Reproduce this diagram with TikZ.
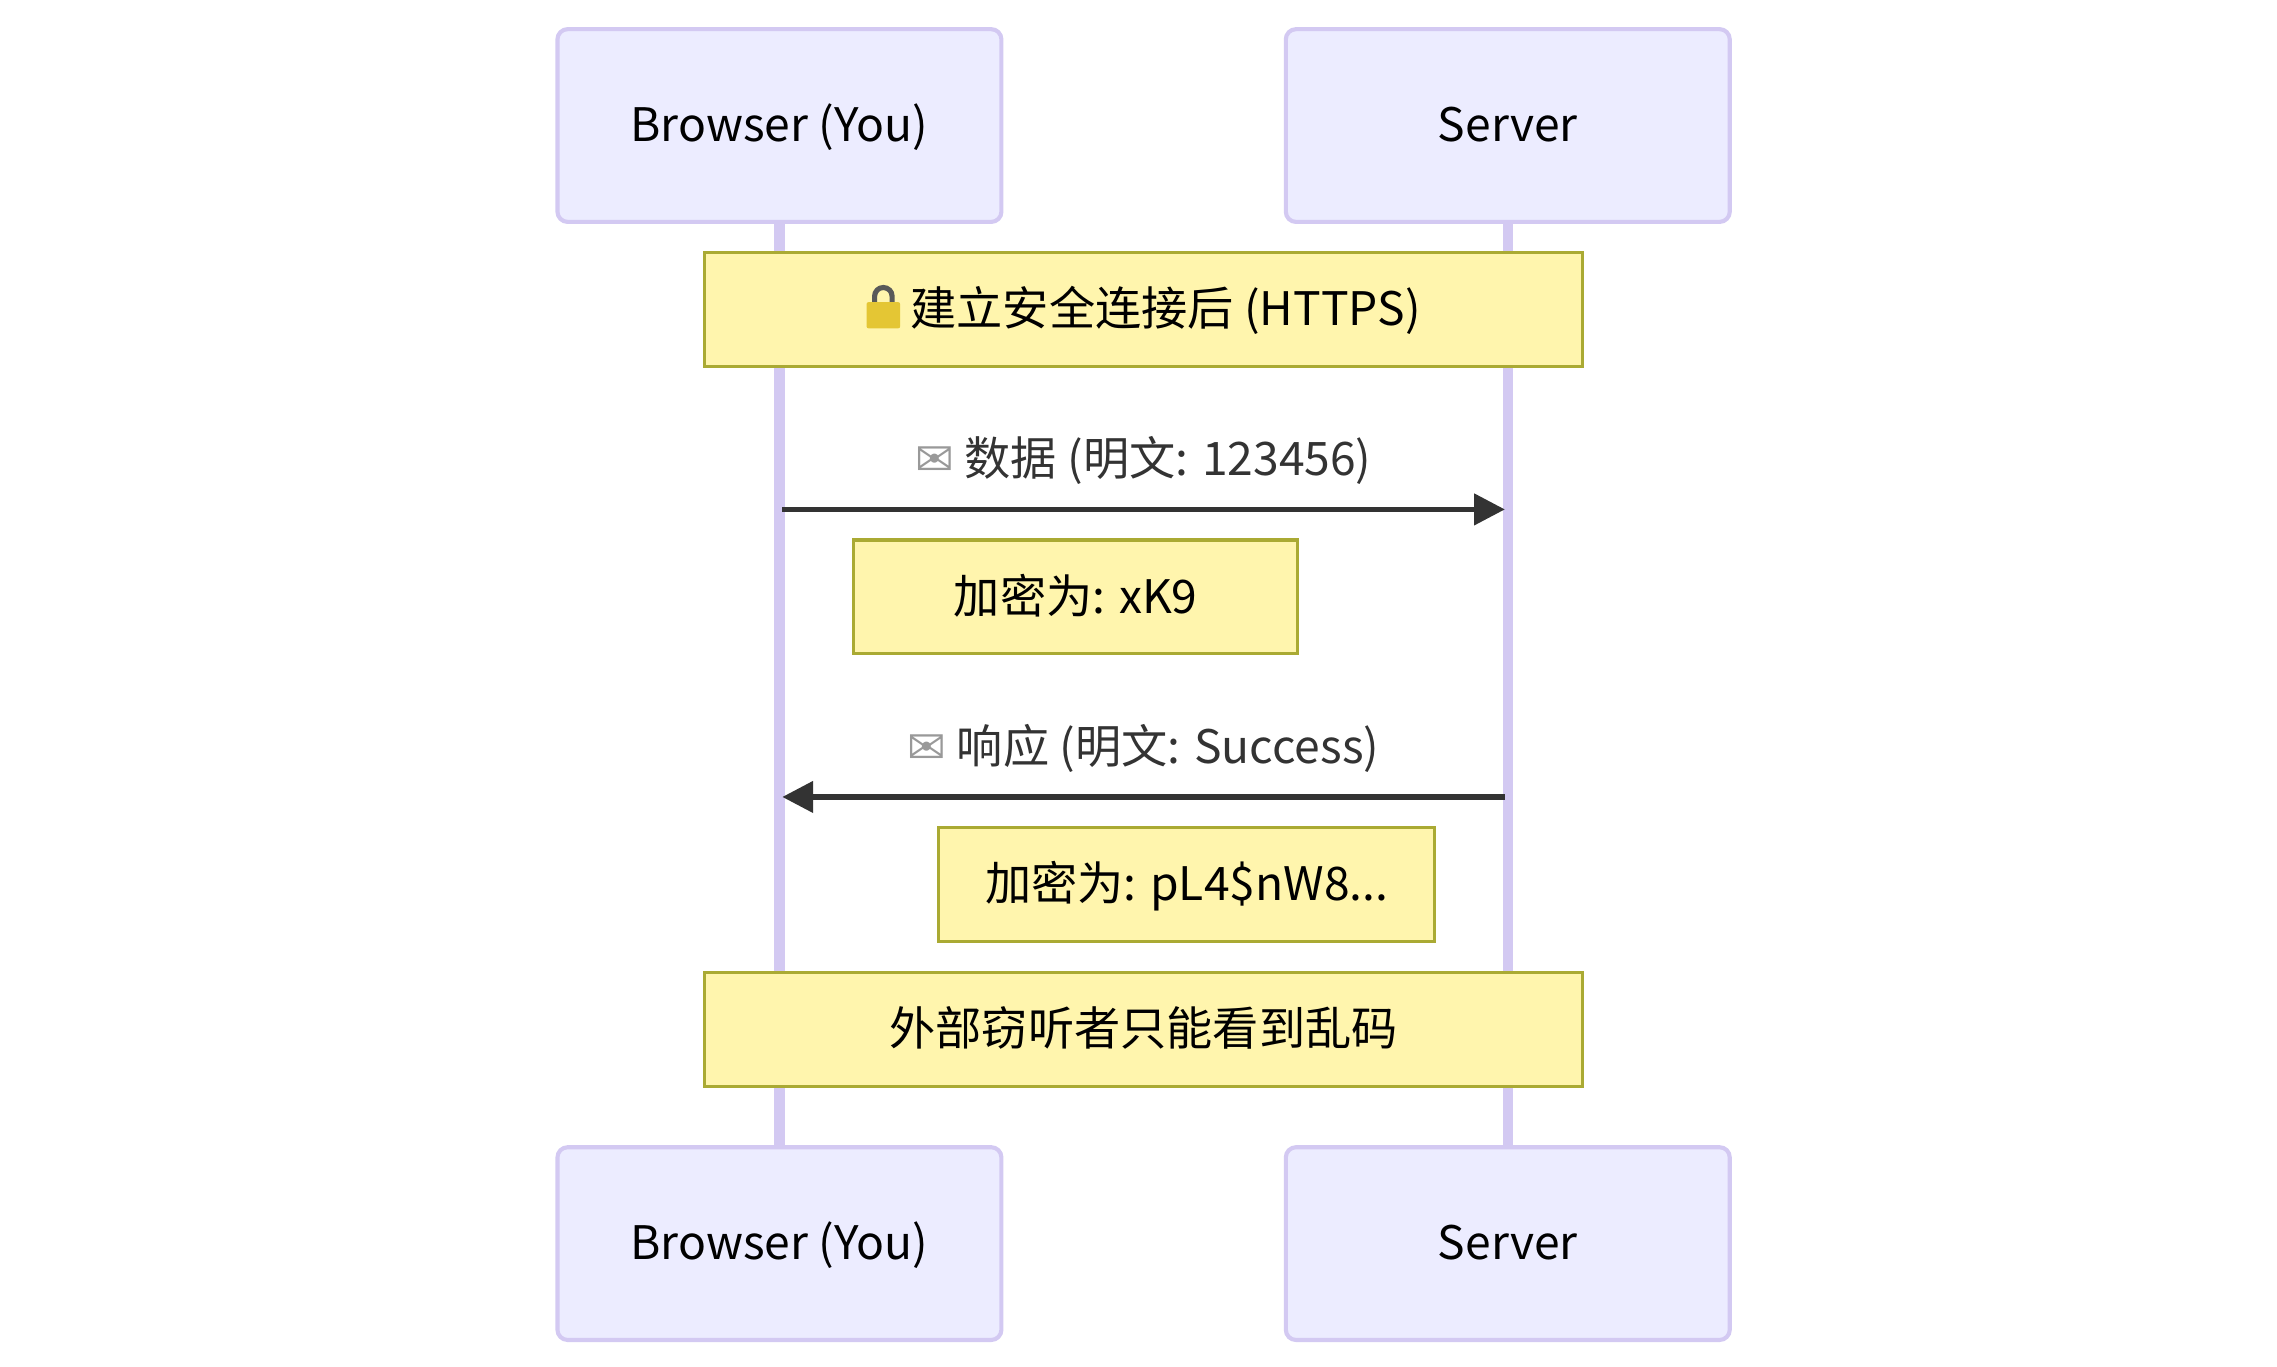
\documentclass[tikz,border=0pt]{standalone}
\usepackage{fontspec}
\setmainfont{Noto Sans CJK SC}
\newfontfamily\symfont{DejaVu Sans}
\usetikzlibrary{arrows.meta,positioning}
\definecolor{actorfill}{HTML}{ECECFF}
\definecolor{actorline}{HTML}{D3C9F2}
\definecolor{notefill}{HTML}{FFF5AD}
\definecolor{noteline}{HTML}{AAAA33}
\definecolor{msgline}{HTML}{333333}
\newcommand\padlock{\tikz[baseline=0pt,x=1cm,y=1cm]{\draw[line width=1pt,color=gray!70!black] (0.055,0.15) -- (0.055,0.2) arc (180:0:0.06) -- (0.175,0.15);\fill[rounded corners=0.4pt,color=yellow!55!brown] (0,-0.02) rectangle (0.23,0.16);}}
\newcommand\envelope{{\symfont\color{gray!80}✉}}
\begin{document}
\begin{tikzpicture}[x=0.01cm,y=-0.01cm,
  actor/.style={draw=actorline,fill=actorfill,line width=0.8pt,rounded corners=2pt,
    minimum width=3.04cm,minimum height=1.32cm,text height=1.6ex,text depth=0.45ex,
    font=\fontsize{9}{11}\selectfont},
  note/.style={draw=noteline,fill=notefill,line width=0.6pt,text height=1.6ex,text depth=0.45ex,
    minimum height=0.78cm,font=\fontsize{9}{11}\selectfont},
  life/.style={draw=actorline,line width=2pt},
  msg/.style={draw=msgline,line width=1pt,-{Triangle[length=6pt,width=6pt]}},
  lbl/.style={font=\fontsize{9}{11}\selectfont,text=msgline}]
\useasboundingbox (0,0) rectangle (1560,936);
% actors
\node[actor] (bt) at (534,86) {Browser (You)};
\node[actor] (st) at (1033,86) {Server};
\node[actor] (bb) at (534,852) {Browser (You)};
\node[actor] (sb) at (1033,852) {Server};
% lifelines
\draw[life] (bt.south) -- (bb.north);
\draw[life] (st.south) -- (sb.north);
% notes and messages
\node[note,minimum width=6.01cm] (n1) at (783.5,212) {\padlock\ 建立安全连接后 (HTTPS)};
\coordinate (m1a) at (536,349);
\coordinate (m1b) at (1031,349);
\draw[msg] (m1a) -- node[lbl,above=1pt] (l1) {\envelope\ 数据 (明文: 123456)} (m1b);
\node[note,minimum width=3.04cm] (n2) at (737,409) {加密为: xK9};
\coordinate (m2a) at (1031,546);
\coordinate (m2b) at (536,546);
\draw[msg] (m2a) -- node[lbl,above=1pt] (l2) {\envelope\ 响应 (明文: Success)} (m2b);
\node[note,minimum width=3.4cm] (n3) at (813,606) {加密为: pL4\$nW8...};
\node[note,minimum width=6.01cm] (n4) at (783.5,705.5) {外部窃听者只能看到乱码};
\end{tikzpicture}
\end{document}
